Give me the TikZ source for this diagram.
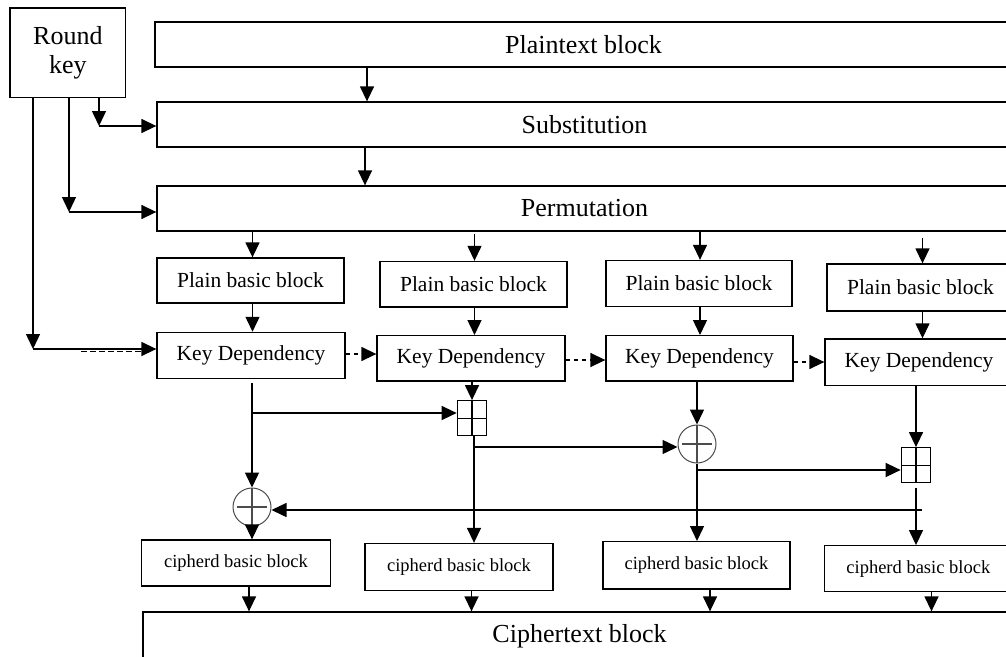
\documentclass[tikz,border=0pt]{standalone}
\usepackage{fontspec}
\setmainfont{Liberation Serif}
\usetikzlibrary{arrows.meta}
\begin{document}
\begin{tikzpicture}[x=1pt,y=-1pt,
  box/.style={draw, line width=1.3pt, inner sep=0pt, align=center},
  big/.style={font=\fontsize{26}{29}\selectfont},
  mid/.style={font=\fontsize{21.5}{24}\selectfont},
  small/.style={font=\fontsize{18.5}{21}\selectfont},
  wire/.style={line width=1.4pt},
  link/.style={wire, -{Triangle[length=15pt,width=14pt]}},
  dlink/.style={link, dash pattern=on 4pt off 4pt},
  ghost/.style={line width=1pt, dash pattern=on 6pt off 3pt},
  xorop/.style={circle, draw=black!70, line width=1pt, minimum size=38pt, inner sep=0pt,
    path picture={\draw[line width=1.1pt] (path picture bounding box.north) -- (path picture bounding box.south)
      ([xshift=4pt]path picture bounding box.west) -- ([xshift=-4pt]path picture bounding box.east);}},
  addop/.style={rectangle, draw, line width=1.2pt, minimum width=29.5pt, minimum height=35pt, inner sep=0pt,
    path picture={\draw[line width=1.2pt] (path picture bounding box.north) -- (path picture bounding box.south)
      (path picture bounding box.west) -- (path picture bounding box.east);}}
]
\clip (0,0) rectangle (1006,656);
\fill[white] (0,0) rectangle (1006,656);

% key and the three full-width stages
\node[box, big, minimum width=115.7pt, minimum height=89.7pt] (rk) at (67.9,52.8) {Round\\key};
\node[box, big, minimum width=857pt, minimum height=45pt] (pt) at (583.5,44.5) {Plaintext block};
\node[box, big, minimum width=855pt, minimum height=45pt] (sub) at (584.5,124.5) {Substitution};
\node[box, big, minimum width=855pt, minimum height=45pt] (perm) at (584.5,208.5) {Permutation};

% plain basic blocks
\node[box, mid, minimum width=187pt, minimum height=45pt] (pb1) at (250.5,280.5) {Plain basic block};
\node[box, mid, minimum width=187pt, minimum height=45.5pt] (pb2) at (473.5,284.2) {Plain basic block};
\node[box, mid, minimum width=186pt, minimum height=46pt] (pb3) at (699,283.5) {Plain basic block};
\node[box, mid, minimum width=187pt, minimum height=47pt] (pb4) at (920.5,287.5) {Plain basic block};

% key dependency stages
\node[box, mid, minimum width=188pt, minimum height=46pt] (kd1) at (251,355.4) {Key Dependency};
\node[box, mid, minimum width=188pt, minimum height=45.3pt] (kd2) at (471,358.3) {Key Dependency};
\node[box, mid, minimum width=187pt, minimum height=45.3pt] (kd3) at (699.5,358.3) {Key Dependency};
\node[box, mid, minimum width=188pt, minimum height=46.7pt] (kd4) at (919,362.3) {Key Dependency};

% combining operators
\node[addop] (bp1) at (472,418.2) {};
\node[addop] (bp2) at (916,465.2) {};
\node[xorop] (x1) at (252,507) {};
\node[xorop] (x2) at (697,444) {};

% ciphered blocks and output
\node[box, small, minimum width=189pt, minimum height=46pt] (cb1) at (236,563) {cipherd basic block};
\node[box, small, minimum width=188pt, minimum height=47pt] (cb2) at (459,567) {cipherd basic block};
\node[box, small, minimum width=187pt, minimum height=47.3pt] (cb3) at (696.5,565.3) {cipherd basic block};
\node[box, small, minimum width=188pt, minimum height=46pt] (cb4) at (918.3,568.7) {cipherd basic block};
\node[box, big, minimum width=873pt, minimum height=48pt] (ct) at (579.5,636) {Ciphertext block};

% reference points for connectors
\coordinate (k1) at (99,126);
\coordinate (k2) at (69,212);
\coordinate (k3) at (33,349);
\coordinate (xa) at (367,0);
\coordinate (xb) at (365,0);
\coordinate (c1) at (252.5,0);
\coordinate (c2) at (474.5,0);
\coordinate (c3) at (700,0);
\coordinate (c4) at (922.5,0);
\coordinate (h1) at (0,354);
\coordinate (h2) at (0,360);
\coordinate (h3) at (0,362);
\coordinate (b1) at (252,413);
\coordinate (b2) at (474,447);
\coordinate (b3) at (697,470);
\coordinate (fb) at (922,510);
\coordinate (d1) at (249,0);
\coordinate (d2) at (471.5,0);
\coordinate (d3) at (710,0);
\coordinate (d4) at (931.5,0);

% main stage flow
\draw[link] (pt.south -| xa) -- (sub.north -| xa);
\draw[link] (sub.south -| xb) -- (perm.north -| xb);

% round key distribution
\draw[link] (rk.south -| k1) -- (k1);
\draw[link] (k1) -- (sub.west |- k1);
\draw[link] (rk.south -| k2) -- (k2);
\draw[link] (k2) -- (perm.west |- k2);
\draw[link] (rk.south -| k3) -- (k3);
\draw[link] (k3) -- (kd1.west |- k3);
\draw[ghost] ([xshift=48pt,yshift=-2.5pt]k3) -- ([xshift=-5pt,yshift=-2.5pt]kd1.west |- k3);

% permutation split into blocks
\draw[link] (perm.south -| c1) -- (pb1.north -| c1);
\draw[link, shorten <=2pt] (perm.south -| c2) -- (pb2.north -| c2);
\draw[link] (perm.south -| c3) -- (pb3.north -| c3);
\draw[link, shorten <=6pt] (perm.south -| c4) -- (pb4.north -| c4);
\draw[link] (pb1.south -| c1) -- (kd1.north -| c1);
\draw[link] (pb2.south -| c2) -- (kd2.north -| c2);
\draw[link] (pb3.south -| c3) -- (kd3.north -| c3);
\draw[link] (pb4.south -| c4) -- (kd4.north -| c4);

% key chaining between stages
\draw[dlink] (kd1.east |- h1) -- (kd2.west |- h1);
\draw[dlink] (kd2.east |- h2) -- (kd3.west |- h2);
\draw[dlink] (kd3.east |- h3) -- (kd4.west |- h3);

% mixing network
\draw[link, shorten <=4pt] (kd1.south -| x1) -- (x1.north);
\draw[link] (b1) -- (bp1.west |- b1);
\draw[link] (kd2.south -| bp1) -- (bp1.north);
\draw[link] (bp1.south -| b2) -- (cb2.north -| b2);
\draw[link] (b2) -- (x2.west |- b2);
\draw[link] (kd3.south -| x2) -- (x2.north);
\draw[link] (x2.south) -- (cb3.north -| x2);
\draw[link] (b3) -- (bp2.west |- b3);
\draw[link] (kd4.south -| bp2) -- (bp2.north);
\draw[link, shorten <=4.5pt] (bp2.south) -- (cb4.north -| bp2);
\draw[link] (fb) -- (x1.east |- fb);
\draw[link] (x1.south) -- (cb1.north -| x1);

% ciphered blocks into output
\draw[link] (cb1.south -| d1) -- (ct.north -| d1);
\draw[link] (cb2.south -| d2) -- (ct.north -| d2);
\draw[link] (cb3.south -| d3) -- (ct.north -| d3);
\draw[link] (cb4.south -| d4) -- (ct.north -| d4);
\end{tikzpicture}
\end{document}
